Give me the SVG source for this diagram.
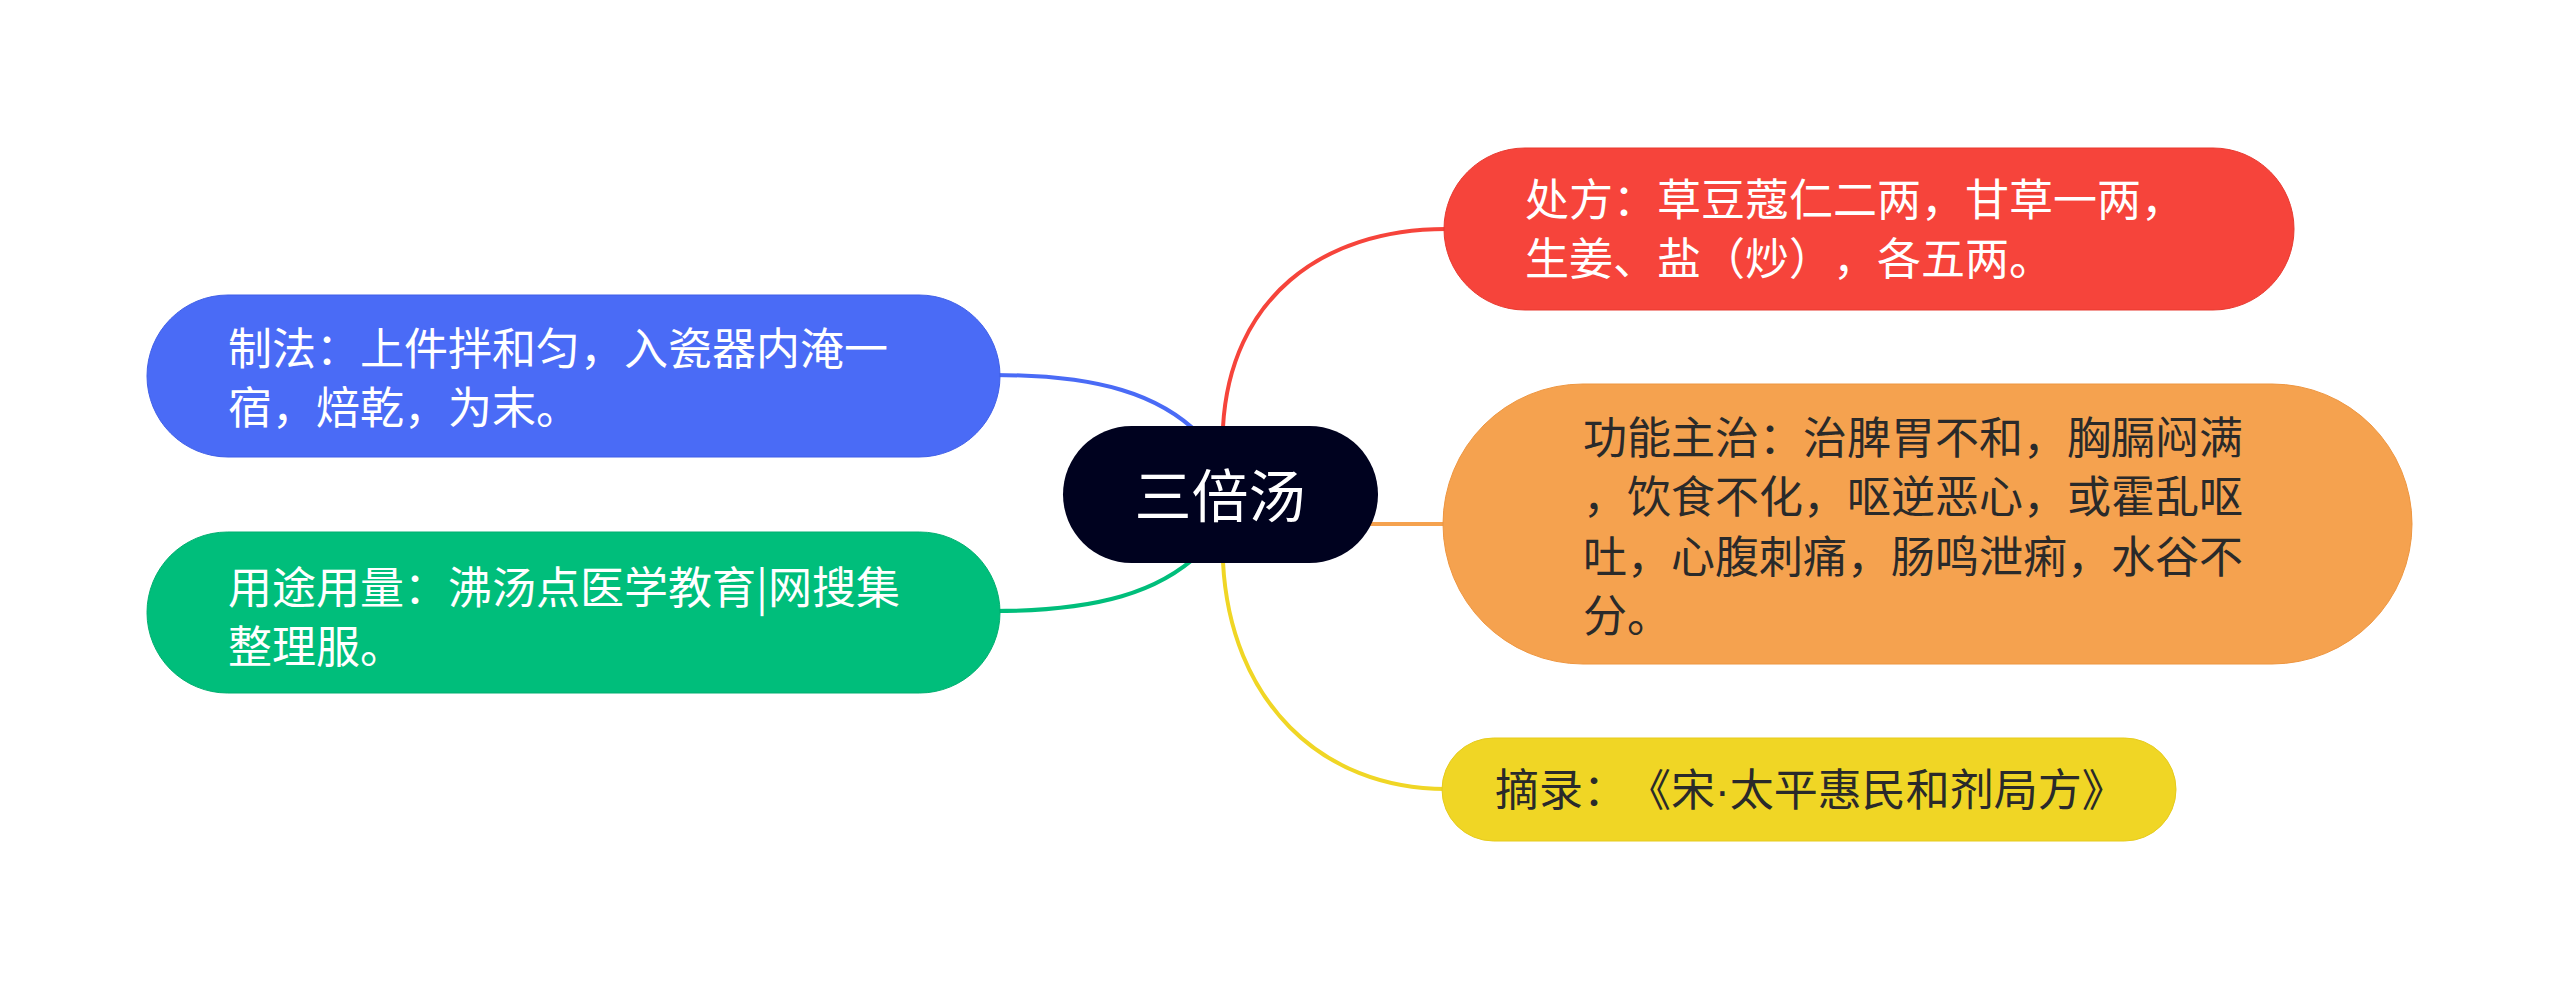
<svg xmlns="http://www.w3.org/2000/svg" width="2560" height="989" viewBox="0 0 2560 989">
<style>
.t{font-family:"Noto Sans CJK SC","Noto Sans",sans-serif;font-size:44px;text-spacing-trim:space-all;font-kerning:none;}
.w{fill:#ffffff;}
.d{fill:#2a2a2a;}
.c{fill:none;stroke-width:4;stroke-linecap:round;}
.dot{font-family:"Liberation Sans",sans-serif;}
</style>
<rect width="2560" height="989" fill="#ffffff"/>
<g id="connectors">
<path class="c" stroke="#F6443B" d="M1223 440 L1223 427 C1230 300 1320 229 1446 229"/>
<path class="c" stroke="#F5A24F" d="M1370 524 L1446 524"/>
<path class="c" stroke="#F0D625" d="M1223 550 L1223 562 C1230 700 1320 789 1446 789"/>
<path class="c" stroke="#4A6BF6" d="M994 375 C1100 375 1160 395 1200 435"/>
<path class="c" stroke="#00BE7B" d="M994 611 C1100 611 1160 591 1200 553"/>
</g>
<g id="center">
<rect x="1063" y="426" width="315" height="137" rx="68.5" fill="#00021F"/>
<text class="t w" x="1220" y="517" text-anchor="middle" style="font-size:57px">三倍汤</text>
</g>
<g id="node-chufang">
<rect x="1444" y="148" width="850" height="162" rx="81" fill="#F6443B" stroke="#E8392F" stroke-width="1"/>
<text class="t w" x="1525" y="216">处方：草豆蔻仁二两，甘草一两，</text>
<text class="t w" x="1525" y="275">生姜、盐（炒），各五两。</text>
</g>
<g id="node-gongneng">
<rect x="1443" y="384" width="969" height="280" rx="140" fill="#F5A24F" stroke="#EE9640" stroke-width="1"/>
<text class="t d" x="1583" y="454">功能主治：治脾胃不和，胸膈闷满</text>
<text class="t d" x="1583" y="513">，饮食不化，呕逆恶心，或霍乱呕</text>
<text class="t d" x="1583" y="573">吐，心腹刺痛，肠鸣泄痢，水谷不</text>
<text class="t d" x="1583" y="632">分。</text>
</g>
<g id="node-zhailu">
<rect x="1442" y="738" width="734" height="103" rx="51.5" fill="#F0D625" stroke="#E6CB1C" stroke-width="1"/>
<text class="t d" x="1495" y="806">摘录：《宋<tspan class="dot">·</tspan>太平惠民和剂局方》</text>
</g>
<g id="node-zhifa">
<rect x="147" y="295" width="853" height="162" rx="81" fill="#4A6BF6" stroke="#3F5FE8" stroke-width="1"/>
<text class="t w" x="228" y="365">制法：上件拌和匀，入瓷器内淹一</text>
<text class="t w" x="228" y="424">宿，焙乾，为末。</text>
</g>
<g id="node-yongtu">
<rect x="147" y="532" width="853" height="161" rx="80.5" fill="#00BE7B" stroke="#00AF70" stroke-width="1"/>
<text class="t w" x="228" y="604">用途用量：沸汤点医学教育|网搜集</text>
<text class="t w" x="228" y="663">整理服。</text>
</g>
</svg>
